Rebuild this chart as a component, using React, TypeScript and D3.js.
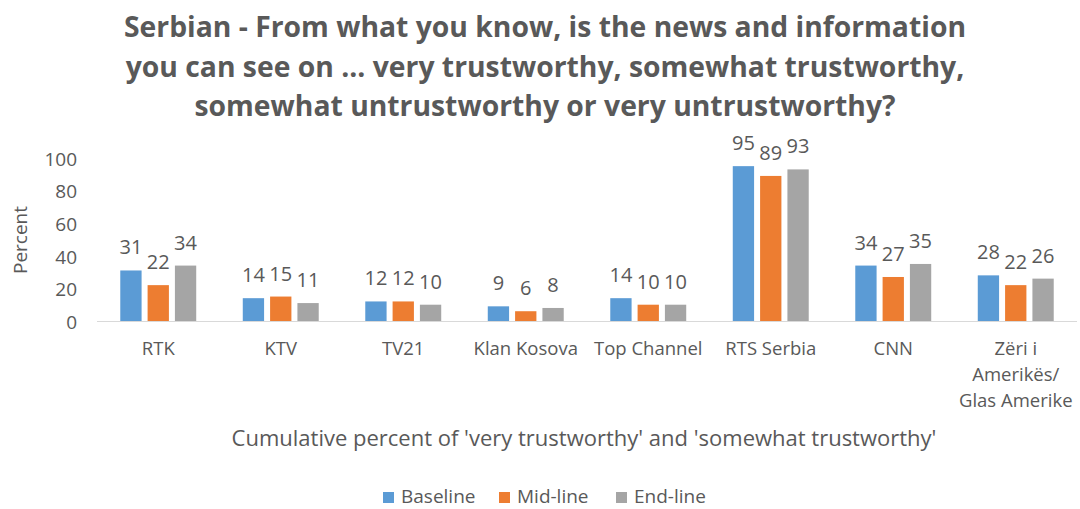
import React from "react";
import * as d3 from "d3";

const categories = ["RTK", "KTV", "TV21", "Klan Kosova", "Top Channel", "RTS Serbia", "CNN", "Zëri i|Amerikës/|Glas Amerike"];
const seriesNames = ["Baseline", "Mid-line", "End-line"];
const baseline = [31, 14, 12, 9, 14, 95, 34, 28];
const midline = [22, 15, 12, 6, 10, 89, 27, 22];
const endline = [34, 11, 10, 8, 10, 93, 35, 26];
const yTicks = [0, 20, 40, 60, 80, 100];
const colors = ["#5B9BD5", "#ED7D31", "#A5A5A5"];
const titleLines = [
  "Serbian - From what you know, is the news and information",
  "you can see on ... very trustworthy, somewhat trustworthy,",
  "somewhat untrustworthy or very untrustworthy?",
];

export default function App() {
  const W = 1080, H = 509;
  const left = 97, right = 1077, top = 158, bottom = 321;
  const x = d3.scaleBand().domain(categories).range([left, right]).paddingInner(0.38).paddingOuter(0.19);
  const y = d3.scaleLinear().domain([0, 100]).range([bottom, top]);
  const x1 = d3.scaleBand().domain(seriesNames).range([0, x.bandwidth()]).paddingInner(0.22);
  const series = [baseline, midline, endline];
  const font = "'Open Sans', sans-serif";
  const txt = "#595959";
  return (
    <svg width={W} height={H} style={{ position: "absolute", left: 0, top: 0, fontFamily: font }}>
      <rect width={W} height={H} fill="#fff" />
      {titleLines.map((t, i) => (
        <text key={i} x={545} y={37 + i * 39.5} textAnchor="middle" fontSize={28.3} fontWeight="bold" fill={txt}>{t}</text>
      ))}
      {yTicks.map((t) => (
        <text key={t} x={77} y={y(t) + 1} dy="0.36em" textAnchor="end" fontSize={19} fill={txt}>{t}</text>
      ))}
      <text transform={`translate(27,240) rotate(-90)`} textAnchor="middle" fontSize={19} fill={txt}>Percent</text>
      <line x1={left} x2={right} y1={bottom + 0.5} y2={bottom + 0.5} stroke="#D9D9D9" strokeWidth={1} />
      {categories.map((c, ci) => (
        <g key={c} transform={`translate(${x(c)},0)`}>
          {series.map((s, si) => (
            <g key={si}>
              <rect x={x1(seriesNames[si])} y={y(s[ci])} width={x1.bandwidth()} height={y(0) - y(s[ci])} fill={colors[si]} />
              <text x={(x1(seriesNames[si]) as number) + x1.bandwidth() / 2} y={y(s[ci]) - 16} textAnchor="middle" fontSize={20} fill={txt}>{s[ci]}</text>
            </g>
          ))}
          {c.split("|").map((line, li) => (
            <text key={li} x={x.bandwidth() / 2} y={355 + li * 26} textAnchor="middle" fontSize={18.5} fill={txt}>{line}</text>
          ))}
        </g>
      ))}
      <text x={584} y={446} textAnchor="middle" fontSize={22} fill={txt}>Cumulative percent of 'very trustworthy' and 'somewhat trustworthy'</text>
      {seriesNames.map((n, i) => {
        const lx = [383, 499, 616][i];
        return (
          <g key={n}>
            <rect x={lx} y={492} width={11} height={11} fill={colors[i]} />
            <text x={lx + 18} y={503} fontSize={19} fill={txt}>{n}</text>
          </g>
        );
      })}
    </svg>
  );
}
